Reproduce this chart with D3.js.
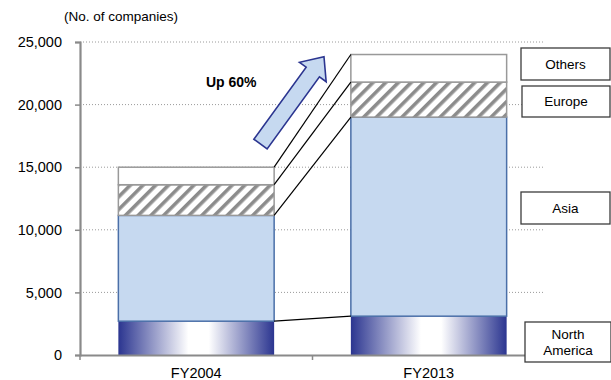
<!DOCTYPE html>
<html>
<head>
<meta charset="utf-8">
<script src="https://cdn.jsdelivr.net/npm/d3@7"></script>
<style>
  body { margin: 0; background: #fff; }
  text { font-family: "Liberation Sans", Arial, sans-serif; fill: #000; }
</style>
</head>
<body>
<svg id="chart" width="611" height="380"></svg>
<script>
// data
const categories = ['FY2004', 'FY2013'];
const seriesNames = ['North America', 'Asia', 'Europe', 'Others'];
const northAmerica = [2700, 3100];
const asia = [8450, 15900];
const europe = [2450, 2800];
const others = [1400, 2200];
const yTicks = [0, 5000, 10000, 15000, 20000, 25000];
const legendLabels = [['North', 'America'], ['Asia'], ['Europe'], ['Others']];
const growthLabel = 'Up 60%';

const width = 611;
const height = 380;
const margin = { top: 42, right: 66, bottom: 25, left: 80 };
const chartWidth = width - margin.left - margin.right;
const chartHeight = height - margin.top - margin.bottom;

const rows = categories.map((c, i) => ({
    category: c,
    'North America': northAmerica[i],
    'Asia': asia[i],
    'Europe': europe[i],
    'Others': others[i]
}));
const stacked = d3.stack().keys(seriesNames)(rows);

const svg = d3.select('#chart');
const defs = svg.append('defs');

// gradient for North America
const grad = defs.append('linearGradient').attr('id', 'naGrad')
    .attr('x1', '0%').attr('x2', '100%').attr('y1', '0%').attr('y2', '0%');
grad.append('stop').attr('offset', '0%').attr('stop-color', '#2b3590');
grad.append('stop').attr('offset', '45%').attr('stop-color', '#ffffff');
grad.append('stop').attr('offset', '58%').attr('stop-color', '#ffffff');
grad.append('stop').attr('offset', '100%').attr('stop-color', '#2b3590');

// hatch for Europe
const hatch = defs.append('pattern').attr('id', 'hatch')
    .attr('patternUnits', 'userSpaceOnUse')
    .attr('width', 9).attr('height', 9)
    .attr('patternTransform', 'rotate(45)');
hatch.append('rect').attr('width', 9).attr('height', 9).attr('fill', '#fff');
hatch.append('rect').attr('x', 0).attr('width', 3.6).attr('height', 9).attr('fill', '#8c8c8c');

const fills = {
    'North America': 'url(#naGrad)',
    'Asia': '#c6d9f0',
    'Europe': 'url(#hatch)',
    'Others': '#ffffff'
};
const strokes = {
    'North America': 'none',
    'Asia': '#4a6fa8',
    'Europe': '#999999',
    'Others': '#999999'
};

const g = svg.append('g').attr('transform', `translate(${margin.left}, ${margin.top})`);

const xScale = d3.scaleBand()
    .domain(categories)
    .range([0, chartWidth])
    .paddingInner(0.33)
    .paddingOuter(0.165);

const yScale = d3.scaleLinear()
    .domain([0, 25000])
    .range([chartHeight, 0]);

// dotted grid lines
g.selectAll('.grid')
    .data(yTicks.filter(d => d > 0))
    .enter()
    .append('line')
    .attr('x1', 0).attr('x2', chartWidth)
    .attr('y1', d => yScale(d)).attr('y2', d => yScale(d))
    .attr('stroke', '#9a9a9a')
    .attr('stroke-width', 1)
    .attr('stroke-dasharray', '1,2');

// stacked bars
stacked.forEach(layer => {
    g.selectAll(null)
        .data(layer)
        .enter()
        .append('rect')
        .attr('x', d => xScale(d.data.category))
        .attr('y', d => yScale(d[1]))
        .attr('width', xScale.bandwidth())
        .attr('height', d => yScale(d[0]) - yScale(d[1]))
        .attr('fill', fills[layer.key])
        .attr('stroke', strokes[layer.key])
        .attr('stroke-width', 1.5);
});

// connector lines between the segment tops
const x0 = xScale(categories[0]) + xScale.bandwidth();
const x1 = xScale(categories[1]);
stacked.forEach(layer => {
    g.append('line')
        .attr('x1', x0).attr('y1', yScale(layer[0][1]))
        .attr('x2', x1).attr('y2', yScale(layer[1][1]))
        .attr('stroke', '#000')
        .attr('stroke-width', 1.2);
});

// Y axis
const yAxis = g.append('g')
    .call(d3.axisLeft(yScale).tickValues(yTicks).tickFormat(d3.format(',')).tickSize(5).tickPadding(13));
yAxis.select('.domain').attr('stroke', '#8a8a8a').attr('stroke-width', 2.2);
yAxis.selectAll('.tick line').attr('stroke', '#8a8a8a').attr('stroke-width', 1.5);
yAxis.selectAll('text').style('font-size', '14.5px').style('font-family', '"Liberation Sans", Arial, sans-serif');

// X axis
const xAxis = g.append('g')
    .attr('transform', `translate(0, ${chartHeight})`)
    .call(d3.axisBottom(xScale).tickSize(0).tickPadding(13));
xAxis.select('.domain').attr('stroke', '#8a8a8a').attr('stroke-width', 2.2);
xAxis.selectAll('text').style('font-size', '14.5px').style('font-family', '"Liberation Sans", Arial, sans-serif');

// ticks at band boundaries
xAxis.selectAll('.bound')
    .data(d3.range(categories.length + 1))
    .enter()
    .append('line')
    .attr('x1', i => i * xScale.step()).attr('x2', i => i * xScale.step())
    .attr('y1', 0).attr('y2', 5)
    .attr('stroke', '#8a8a8a').attr('stroke-width', 1.5);

// unit label
svg.append('text')
    .attr('x', 64).attr('y', 21)
    .style('font-size', '13.5px')
    .text('(No. of companies)');

// growth arrow
const ax = (xScale(categories[0]) + xScale.bandwidth() + xScale(categories[1])) / 2 - 52;
const ay = yScale(16850);
const aLen = 108, shaftW = 8.2, headW = 16.5, headL = 19;
const arrowPath = `M0,${-shaftW} L${aLen - headL},${-shaftW} L${aLen - headL},${-headW} L${aLen},0 ` +
    `L${aLen - headL},${headW} L${aLen - headL},${shaftW} L0,${shaftW} Z`;
g.append('path')
    .attr('d', arrowPath)
    .attr('transform', `translate(${ax}, ${ay}) rotate(-54)`)
    .attr('fill', '#c6d9f0')
    .attr('stroke', '#2b3590')
    .attr('stroke-width', 1.6)
    .attr('stroke-linejoin', 'miter');

g.append('text')
    .attr('x', 126).attr('y', 45)
    .style('font-size', '14px')
    .style('font-weight', 'bold')
    .text(growthLabel);

// label boxes on the right
const boxes = [
    { x: 525, y: 322, w: 86, h: 40 },
    { x: 521, y: 192, w: 89, h: 32 },
    { x: 522, y: 86, w: 88, h: 31 },
    { x: 521, y: 48, w: 89, h: 32 }
];
boxes.forEach((b, i) => {
    const bg = svg.append('g').attr('transform', `translate(${b.x}, ${b.y})`);
    bg.append('rect')
        .attr('width', b.w).attr('height', b.h)
        .attr('fill', '#fff')
        .attr('stroke', '#3c3c3c')
        .attr('stroke-width', 1.3);
    const lines = legendLabels[i];
    lines.forEach((t, j) => {
        bg.append('text')
            .attr('x', b.w / 2)
            .attr('y', b.h / 2 + (j - (lines.length - 1) / 2) * 16)
            .attr('dy', '0.36em')
            .style('text-anchor', 'middle')
            .style('font-size', '13.5px')
            .text(t);
    });
});
</script>
</body>
</html>
